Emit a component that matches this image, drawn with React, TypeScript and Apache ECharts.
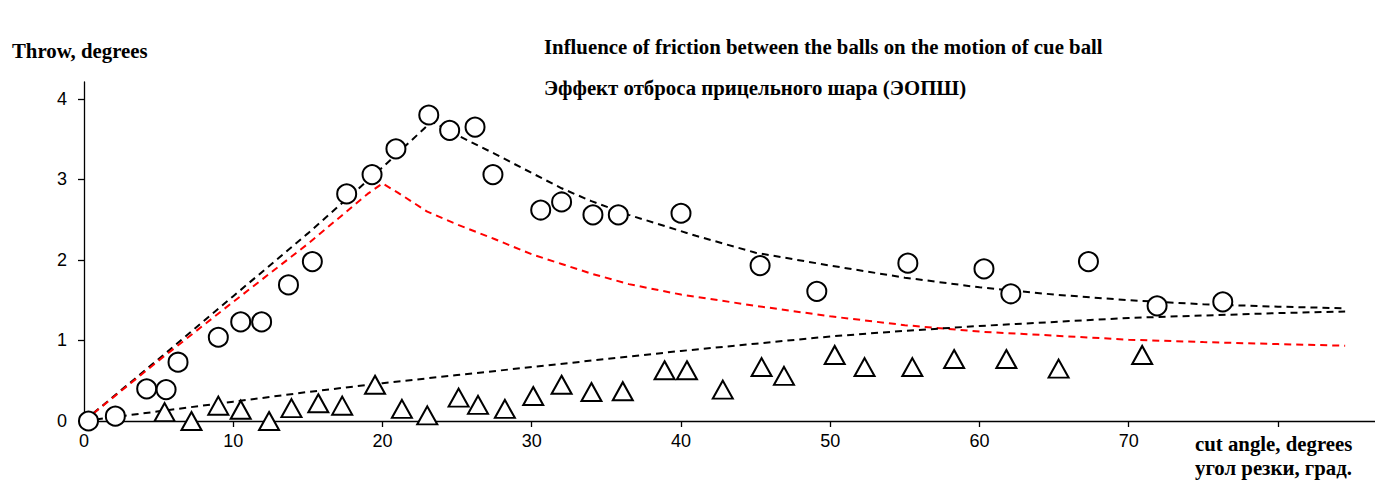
import React, { useEffect, useRef } from "react";
import * as echarts from "echarts";

// Measured points: circles (throw with friction) and triangles
const circleAngles = [0.3, 2.1, 4.2, 5.5, 6.3, 9.0, 10.5, 11.9, 13.7, 15.3, 17.6, 19.3, 20.9, 23.1, 24.5, 26.2, 27.4, 30.6, 32.0, 34.1, 35.8, 40.0, 45.3, 49.1, 55.2, 60.3, 62.1, 67.3, 71.9, 76.3];
const circleThrow = [0.0, 0.06, 0.4, 0.39, 0.73, 1.04, 1.23, 1.23, 1.69, 1.98, 2.82, 3.06, 3.38, 3.8, 3.61, 3.65, 3.06, 2.62, 2.72, 2.56, 2.56, 2.58, 1.93, 1.61, 1.96, 1.89, 1.58, 1.98, 1.43, 1.48];

const triangleAngles = [5.4, 7.2, 9.0, 10.5, 12.4, 13.9, 15.7, 17.3, 19.5, 21.3, 23.0, 25.1, 26.4, 28.2, 30.1, 32.0, 34.0, 36.1, 38.9, 40.4, 42.8, 45.4, 46.9, 50.3, 52.3, 55.5, 58.3, 61.8, 65.3, 70.9];
const triangleThrow = [0.11, 0.0, 0.19, 0.14, 0.0, 0.16, 0.22, 0.19, 0.45, 0.15, 0.07, 0.29, 0.2, 0.15, 0.31, 0.45, 0.36, 0.37, 0.63, 0.63, 0.39, 0.67, 0.56, 0.82, 0.67, 0.67, 0.77, 0.77, 0.65, 0.82];

// Model curves (dashed)
const upperCurveX = [0, 5, 10, 15, 20, 23.3, 25, 27.5, 30, 32, 34, 36.5, 41, 45, 50, 55, 60, 65, 70, 75, 80, 84.5];
const upperCurveY = [0, 0.77, 1.55, 2.33, 3.15, 3.72, 3.55, 3.32, 3.08, 2.89, 2.73, 2.56, 2.3, 2.09, 1.93, 1.78, 1.66, 1.57, 1.5, 1.45, 1.42, 1.4];

const redCurveX = [0, 5, 10, 15, 19, 20, 21, 23, 25, 27.5, 30, 32, 34, 36.5, 40, 45, 50, 55, 60, 65, 70, 75, 80, 84.5];
const redCurveY = [0, 0.75, 1.48, 2.2, 2.82, 2.95, 2.84, 2.6, 2.44, 2.26, 2.07, 1.95, 1.83, 1.7, 1.57, 1.43, 1.3, 1.19, 1.11, 1.06, 1.01, 0.98, 0.955, 0.935];

const lowerCurveX = [0, 5, 10, 15, 20, 25, 30, 35, 40, 45, 50, 55, 60, 65, 70, 75, 80, 84.5];
const lowerCurveY = [0, 0.12, 0.24, 0.36, 0.47, 0.57, 0.67, 0.77, 0.87, 0.96, 1.05, 1.12, 1.18, 1.23, 1.28, 1.31, 1.34, 1.36];

const xTickValues = [0, 10, 20, 30, 40, 50, 60, 70, 80];
const xLabelValues = [0, 10, 20, 30, 40, 50, 60, 70];
const yTickValues = [0, 1, 2, 3, 4];

const zip = (xs: number[], ys: number[]) => xs.map((x, i) => [x, ys[i]]);

const serif = '"Liberation Serif", "Times New Roman", serif';
const sans = '"Liberation Sans", Arial, sans-serif';

export default function App() {
  const ref = useRef<HTMLDivElement>(null);
  useEffect(() => {
    if (!ref.current) return;
    const chart = echarts.init(ref.current, undefined, { renderer: "svg" });
    const dash = [7, 5];
    const txt = (text: string, x: number, y: number) => ({
      type: "text",
      x,
      y,
      style: {
        text,
        font: `bold 20.8px ${serif}`,
        fill: "#000",
        textAlign: "left",
        textVerticalAlign: "middle",
        align: "left",
        verticalAlign: "middle",
      },
    });
    chart.setOption({
      animation: false,
      backgroundColor: "#fff",
      grid: { left: 84, right: 0, top: 82, bottom: 80, containLabel: false },
      xAxis: {
        type: "value",
        min: 0,
        max: 86.5,
        interval: 10,
        axisLine: { show: true, onZero: false, lineStyle: { color: "#000", width: 1.3 } },
        axisTick: { show: true, length: 6, customValues: xTickValues, lineStyle: { color: "#000", width: 1.3 } },
        axisLabel: { customValues: xLabelValues, color: "#000", fontSize: 18, fontFamily: sans, margin: 11 },
        splitLine: { show: false },
      },
      yAxis: {
        type: "value",
        min: 0,
        max: 4.21,
        interval: 1,
        axisLine: { show: true, onZero: false, lineStyle: { color: "#000", width: 1.3 } },
        axisTick: { show: true, length: 6, customValues: yTickValues, lineStyle: { color: "#000", width: 1.3 } },
        axisLabel: { customValues: yTickValues, color: "#000", fontSize: 18, fontFamily: sans, margin: 17 },
        splitLine: { show: false },
      },
      series: [
        {
          type: "line",
          data: zip(upperCurveX, upperCurveY),
          showSymbol: false,
          lineStyle: { color: "#000", width: 2, type: dash },
          z: 1,
        },
        {
          type: "line",
          data: zip(redCurveX, redCurveY),
          showSymbol: false,
          lineStyle: { color: "#ff0000", width: 2, type: dash },
          z: 1,
        },
        {
          type: "line",
          data: zip(lowerCurveX, lowerCurveY),
          showSymbol: false,
          lineStyle: { color: "#000", width: 2, type: dash },
          z: 1,
        },
        {
          type: "scatter",
          data: zip(circleAngles, circleThrow),
          symbol: "circle",
          symbolSize: 19,
          itemStyle: { color: "#fff", borderColor: "#000", borderWidth: 2, opacity: 1 },
          z: 3,
        },
        {
          type: "scatter",
          data: zip(triangleAngles, triangleThrow),
          symbol: "triangle",
          symbolSize: [20, 18],
          itemStyle: { color: "#fff", borderColor: "#000", borderWidth: 2, opacity: 1 },
          z: 3,
        },
      ],
      graphic: [
        txt("Throw, degrees", 12, 50),
        txt("Influence of friction between the balls on the motion of cue ball", 544, 46),
        txt("Эффект отброса прицельного шара (ЭОПШ)", 544, 87),
        txt("cut angle, degrees", 1195, 443),
        txt("угол резки, град.", 1195, 467),
      ],
    });
    return () => chart.dispose();
  }, []);
  return (
    <div
      ref={ref}
      style={{ position: "absolute", left: 0, top: 0, width: 1375, height: 501, background: "#fff" }}
    />
  );
}
